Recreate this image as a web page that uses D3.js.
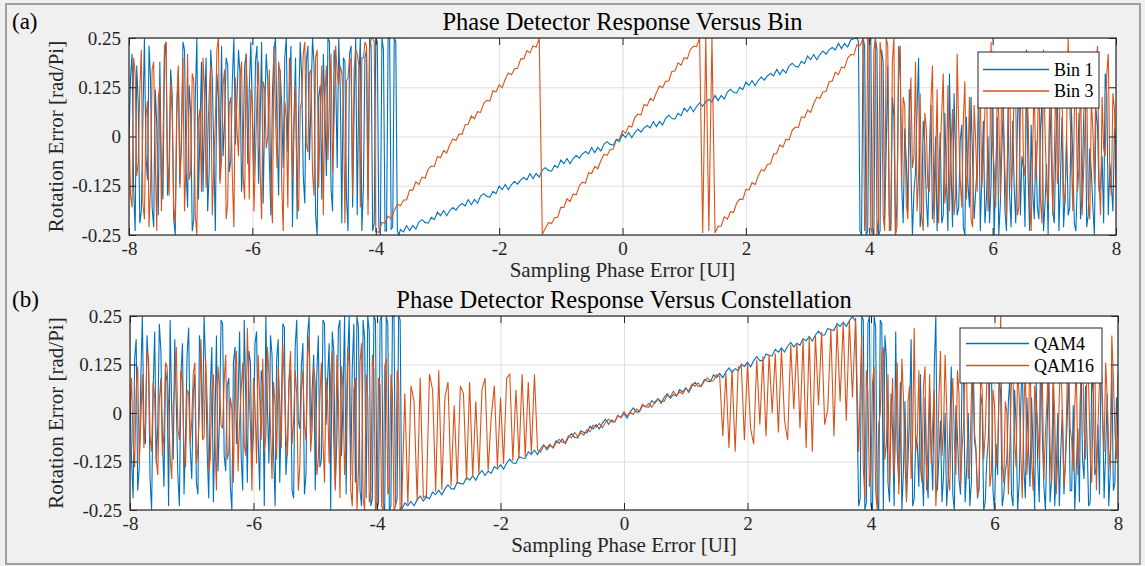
<!DOCTYPE html>
<html lang="en">
<head>
<meta charset="UTF-8">
<title>Phase Detector Response</title>
<script src="https://d3js.org/d3.v7.min.js"></script>
<style>
    body {
        margin: 0;
        padding: 0;
        background: #f0f0f0;
    }
    svg {
        display: block;
    }
    .tick line {
        stroke: #262626;
    }
    .grid .tick line {
        stroke: #dedede;
    }
</style>
</head>
<body>
<div id="chart"></div>
<script>
// noisy stretches are sampled every 0.025 UI, the ramps every 0.05 UI
const FINE = 0.025;
const COARSE = 0.05;

const xTicks = [-8, -6, -4, -2, 0, 2, 4, 6, 8];
const yTicks = [-0.25, -0.125, 0, 0.125, 0.25];
const yTickLabels = ["-0.25", "-0.125", "0", "0.125", "0.25"];

// ---- panel (a): Bin 1 ----
// x = -8 ... -3.625
const bin1Left = [
    -0.02, 0.15, 0.21, -0.13, -0.24, 0.18, 0.08, -0.22, -0.19, 0.04, 0.25, -0.05, -0.11, 0.23, 0.14, -0.18, -0.23, 0.12, 0.03, -0.2,
    0.19, -0.09, -0.16, 0.2, 0.24, -0.15, -0.07, 0.17, 0.11, -0.21, -0.25, 0.06, 0.17, -0.12, -0.02, 0.24, 0.22, -0.08, -0.18, 0.13,
    0.06, -0.24, -0.21, 0.1, 0.25, -0.16, 0.01, 0.19, -0.14, 0.07, 0.2, -0.19, -0.09, 0.22, 0.15, -0.04, -0.24, 0.16, 0.1, -0.11,
    0.23, -0.05, 0.04, 0.2, 0.18, -0.09, -0.06, 0.14, 0.25, -0.02, 0.09, 0.22, 0.16, -0.14, -0.03, 0.18, 0.21, -0.07, 0.12, 0.24,
    0.05, -0.1, 0.19, 0.23, -0.12, 0.03, 0.24, -0.17, 0.07, 0.21, 0.14, -0.06, -0.2, 0.11, 0.22, 0.25, 0.02, -0.15, 0.17, 0.08,
    -0.08, 0.2, 0.25, -0.04, 0.11, 0.23, -0.23, 0.05, 0.2, -0.21, 0.06, 0.24, 0.15, -0.1, -0.17, 0.19, 0.23, -0.06, 0.09, 0.25,
    0.18, -0.2, -0.25, 0.1, 0.13, -0.16, 0.21, 0.07, -0.1, 0.25, 0.24, -0.13, -0.19, 0.22, 0.16, -0.08, 0.25, 0.12, -0.22, 0.2,
    0.19, -0.15, -0.24, 0.21, 0.23, -0.18, 0.08, 0.25, -0.2, 0.14, 0.25, -0.24, -0.13, 0.2, 0.22, -0.16,
    0.25, 0.23, -0.24, -0.22, 0.25, 0.24, -0.23, -0.25, 0.25, 0.22, -0.24, -0.24, 0.25, 0.25, -0.235, -0.23, 0.25, 0.24, -0.24, -0.25
];
// x = -3.6 ... 3.75
const bin1Ramp = [
    -0.236, -0.242, -0.226, -0.239, -0.226, -0.235, -0.217, -0.211, -0.218, -0.220,
    -0.205, -0.211, -0.192, -0.201, -0.188, -0.201, -0.188, -0.180, -0.187, -0.176,
    -0.170, -0.176, -0.160, -0.173, -0.160, -0.169, -0.151, -0.145, -0.152, -0.154,
    -0.139, -0.145, -0.126, -0.135, -0.122, -0.135, -0.122, -0.114, -0.121, -0.110,
    -0.104, -0.110, -0.094, -0.107, -0.094, -0.103, -0.085, -0.079, -0.086, -0.088,
    -0.073, -0.079, -0.060, -0.069, -0.056, -0.069, -0.056, -0.048, -0.055, -0.044,
    -0.038, -0.044, -0.028, -0.041, -0.028, -0.037, -0.019, -0.013, -0.020, -0.022,
    -0.007, -0.013, 0.006, -0.003, 0.010, -0.003, 0.010, 0.019, 0.011, 0.022,
    0.028, 0.022, 0.038, 0.025, 0.038, 0.029, 0.047, 0.054, 0.046, 0.044,
    0.059, 0.053, 0.072, 0.063, 0.076, 0.063, 0.076, 0.085, 0.077, 0.088,
    0.094, 0.088, 0.104, 0.091, 0.104, 0.095, 0.113, 0.120, 0.112, 0.110,
    0.125, 0.119, 0.138, 0.129, 0.142, 0.129, 0.142, 0.151, 0.143, 0.154,
    0.160, 0.154, 0.170, 0.157, 0.170, 0.161, 0.179, 0.186, 0.178, 0.176,
    0.191, 0.185, 0.204, 0.195, 0.208, 0.195, 0.208, 0.217, 0.209, 0.220,
    0.226, 0.220, 0.236, 0.223, 0.236, 0.227, 0.245, 0.248
];
// x = 3.8 ... 8
const bin1Right = [
    0.25, 0.24, -0.24, -0.25, 0.25, 0.23, -0.25, -0.24, 0.24, 0.25, -0.23, -0.25, 0.25, 0.22, -0.25, -0.24, 0.22, 0.19,
    -0.21, -0.03, 0.18, -0.2, -0.24, 0.1, 0.05, -0.25, -0.17, 0.14, 0.23, -0.12, -0.22, 0.02, -0.06, -0.19, 0.12, -0.08, -0.25, -0.14,
    -0.09, 0.07, 0.2, -0.23, -0.19, 0.04, -0.02, -0.16, -0.23, -0.04, 0.08, -0.21, -0.15, 0.0, -0.24, -0.11, 0.01, -0.22, -0.2, 0.06,
    -0.11, -0.24, 0.16, -0.07, -0.23, 0.11, -0.05, -0.2, -0.18, -0.01, 0.03, -0.23, -0.25, 0.05, -0.12, -0.18, 0.1, -0.06, -0.21, -0.14,
    -0.07, 0.12, -0.24, -0.1, 0.04, -0.22, -0.16, 0.0, -0.22, -0.12, 0.14, -0.25, -0.1, 0.05, -0.25, -0.17, -0.03, 0.08, -0.19, -0.24,
    0.07, -0.15, -0.23, 0.04, -0.13, -0.22, 0.02, 0.15, -0.2, -0.05, -0.08, -0.23, 0.22, -0.1, -0.24, 0.03, -0.14, -0.21, -0.01, -0.18,
    -0.21, 0.02, 0.09, -0.24, -0.17, -0.07, -0.25, 0.1, -0.04, -0.19, -0.22, -0.02, 0.12, -0.24, -0.11, 0.05, -0.23, -0.15, 0.0, -0.2,
    -0.18, 0.08, -0.06, -0.22, -0.24, -0.1, 0.06, -0.21, -0.15, 0.04, 0.17, -0.23, -0.2, -0.03, -0.09, -0.18, -0.25, 0.07, 0.03, -0.14,
    -0.13, -0.05, -0.22, 0.16, 0.11, -0.2, -0.07, -0.12, -0.19, 0.02, -0.03
];

// ---- panel (a): Bin 3 ----
// x = -8 ... -4.025
const bin3Left = [
    0.03, -0.15, -0.18, 0.2, 0.16, -0.1, -0.07, 0.12, 0.22, -0.17, -0.21, 0.05, 0.09, -0.23, -0.12, 0.17, 0.19, -0.04, -0.24, 0.1,
    0.13, -0.19, -0.03, 0.23, 0.24, -0.08, -0.15, 0.14, 0.06, -0.18, -0.22, 0.09, 0.18, -0.13, 0.01, 0.2, -0.19, -0.06, 0.21, -0.11,
    -0.09, 0.16, 0.14, -0.2, -0.25, 0.04, 0.07, -0.14, 0.2, 0.11, -0.13, -0.02, 0.11, 0.18, -0.2, -0.07, 0.04, 0.22, 0.25, -0.12,
    -0.06, 0.13, 0.17, -0.21, -0.17, 0.08, 0.1, -0.1, -0.23, 0.15, 0.02, -0.05, 0.15, 0.19, -0.1, -0.16, 0.21, 0.06, -0.16, 0.12,
    0.08, -0.19, -0.05, 0.1, 0.19, -0.08, -0.21, 0.14, 0.12, -0.03, 0.0, 0.17, -0.14, -0.22, 0.23, 0.05, -0.08, 0.19, 0.16, -0.12,
    -0.24, 0.09, 0.05, -0.18, 0.2, 0.13, -0.11, 0.03, 0.13, -0.15, -0.19, 0.07, 0.09, 0.21, 0.24, -0.02, -0.04, 0.16, 0.17, -0.09,
    -0.15, 0.2, 0.22, -0.13, 0.06, 0.18, -0.2, 0.1, 0.18, -0.06, 0.11, 0.21, -0.09, 0.04, 0.23, 0.16,
    0.13, 0.18, 0.16, 0.1, -0.22, 0.14, 0.15, 0.2, 0.19, -0.15, 0.17, 0.22, 0.21, 0.18, -0.18, 0.2, 0.2, 0.24, 0.23, -0.2, 0.22, 0.25, 0.25, 0.24
];
// x = -4 ... -1.35
const bin3Ramp1 = [
    -0.241, -0.243, -0.218, -0.220, -0.202, -0.209, -0.188, -0.172, -0.176, -0.161,
    -0.161, -0.136, -0.136, -0.115, -0.122, -0.103, -0.106, -0.083, -0.075, -0.076,
    -0.051, -0.054, -0.036, -0.042, -0.021, -0.006, -0.010, 0.006, 0.006, 0.030,
    0.031, 0.052, 0.045, 0.063, 0.061, 0.084, 0.092, 0.090, 0.116, 0.113,
    0.131, 0.124, 0.146, 0.161, 0.157, 0.172, 0.173, 0.197, 0.197, 0.218,
    0.212, 0.230, 0.227, 0.249
];
// x = -1.3 ... 1.2
const bin3Ramp2 = [
    -0.248, -0.233, -0.218, -0.221, -0.206, -0.205, -0.180, -0.180, -0.158, -0.165,
    -0.146, -0.148, -0.125, -0.116, -0.118, -0.092, -0.094, -0.076, -0.082, -0.061,
    -0.045, -0.048, -0.033, -0.032, -0.008, -0.007, 0.015, 0.008, 0.027, 0.024,
    0.048, 0.057, 0.055, 0.081, 0.078, 0.097, 0.091, 0.112, 0.128, 0.124,
    0.140, 0.141, 0.165, 0.166, 0.187, 0.181, 0.200, 0.197, 0.221, 0.229,
    0.228
];
// x = 1.25 ... 1.45
const bin3SwingM = [0.25, -0.245, 0.25, -0.24, 0.25];
// x = 1.5 ... 3.9
const bin3Ramp3 = [
    -0.245, -0.228, -0.227, -0.204, -0.210, -0.191, -0.193, -0.169, -0.159, -0.160,
    -0.134, -0.136, -0.117, -0.122, -0.100, -0.084, -0.087, -0.071, -0.069, -0.044,
    -0.043, -0.021, -0.027, -0.007, -0.009, 0.015, 0.024, 0.023, 0.050, 0.048,
    0.067, 0.061, 0.083, 0.100, 0.097, 0.113, 0.114, 0.139, 0.141, 0.163,
    0.157, 0.176, 0.174, 0.199, 0.208, 0.207, 0.233, 0.231, 0.248
];
// x = 3.925 ... 8
const bin3Right = [
    -0.24, -0.2, 0.25, 0.24, -0.23, -0.25, 0.22, 0.25, -0.25, -0.21, 0.24, 0.2, -0.2, -0.24, 0.25, 0.23, -0.24, -0.22, 0.19, 0.25, -0.25, -0.23, 0.23, 0.21,
    -0.12, 0.1, 0.08, -0.17, -0.21, 0.04, 0.15, -0.08, -0.05, 0.19, -0.19, -0.1, 0.11, -0.2, -0.24, 0.06, 0.02, -0.13, -0.14, 0.09,
    0.18, -0.22, -0.09, 0.12, -0.22, -0.04, 0.06, 0.16, -0.17, -0.11, 0.13, -0.19, -0.03, 0.07, -0.2, -0.15, 0.21, 0.02, -0.11, -0.18,
    0.04, 0.14, -0.16, -0.07, 0.1, -0.21, -0.23, 0.08, -0.01, -0.14, 0.16, 0.11, -0.13, -0.06, 0.07, 0.19, -0.19, -0.12, 0.24, -0.02,
    -0.08, -0.18, 0.12, 0.05, -0.15, 0.17, 0.03, -0.09, -0.21, 0.03, 0.17, -0.13, -0.06, 0.14, 0.09, -0.2, -0.18, 0.06, 0.2, -0.07,
    -0.1, 0.13, 0.05, -0.16, -0.24, -0.02, 0.14, -0.11, -0.02, 0.18, -0.16, -0.22, 0.22, 0.01, -0.12, -0.17, 0.08, 0.12, -0.2, -0.05,
    0.15, -0.12, -0.07, 0.2, 0.11, -0.14, -0.17, 0.02, 0.25, 0.08, -0.04, -0.19, 0.06, 0.15, -0.14, -0.08, 0.19, -0.2, -0.09, 0.04,
    0.13, -0.16, -0.21, 0.09, 0.02, -0.12, 0.17, 0.23, -0.11, -0.2, 0.1, -0.03, -0.05, 0.16, 0.21, -0.1, -0.15, 0.11, 0.07, -0.13
];

// ---- panel (b): QAM4 ----
// x = -8 ... -3.625
const qam4Left = [
    0.05, -0.12, -0.22, 0.14, 0.19, -0.2, -0.14, 0.09, 0.25, -0.03, -0.08, 0.2, 0.12, -0.17, -0.25, 0.06, 0.21, -0.13, -0.03, 0.23,
    0.16, -0.07, -0.19, 0.11, 0.08, -0.24, 0.24, 0.01, -0.12, 0.19, 0.02, -0.16, -0.24, 0.1, 0.18, -0.21, -0.06, 0.15, 0.22, -0.09,
    -0.17, 0.05, 0.1, -0.18, -0.21, 0.2, 0.14, -0.05, 0.25, 0.12, -0.1, -0.22, 0.06, 0.17, -0.23, -0.04, 0.2, -0.15, -0.01, 0.24,
    0.23, -0.11, -0.15, 0.07, 0.09, -0.19, -0.25, 0.13, 0.17, -0.08, 0.03, 0.21, -0.11, -0.2, 0.24, 0.04, -0.18, 0.16, 0.13, -0.14,
    -0.05, 0.18, 0.21, -0.06, -0.2, 0.11, 0.07, -0.24, 0.25, 0.02, -0.13, 0.2, 0.15, -0.1, -0.24, 0.14, 0.19, -0.18, 0.0, 0.23,
    0.22, -0.16, -0.09, 0.08, 0.11, -0.2, -0.22, 0.17, 0.24, -0.02, -0.04, 0.12, 0.18, -0.21, -0.16, 0.2, 0.25, -0.07, 0.06, 0.15,
    -0.2, 0.1, 0.2, -0.14, -0.12, 0.24, 0.23, -0.03, 0.09, 0.18, -0.25, 0.21, 0.16, -0.19, -0.07, 0.22, 0.24, -0.11, 0.04, 0.25,
    -0.21, 0.14, 0.25, -0.16, 0.12, 0.23, -0.18, 0.25, 0.22, -0.2, -0.24, 0.24, 0.19, -0.22, 0.25, 0.21,
    -0.24, -0.22, 0.25, 0.24, -0.25, -0.23, 0.24, 0.25, -0.23, -0.25, 0.25, 0.23, -0.25, -0.24, 0.25, 0.25, -0.24, -0.22, 0.25, 0.24
];
// x = -3.6 ... 3.75
const qam4Ramp = [
    -0.249, -0.232, -0.239, -0.228, -0.239, -0.224, -0.214, -0.227, -0.216, -0.221,
    -0.204, -0.210, -0.199, -0.211, -0.195, -0.185, -0.195, -0.196, -0.178, -0.182,
    -0.183, -0.166, -0.173, -0.162, -0.173, -0.158, -0.148, -0.161, -0.150, -0.155,
    -0.138, -0.144, -0.133, -0.145, -0.129, -0.119, -0.129, -0.130, -0.112, -0.116,
    -0.117, -0.100, -0.107, -0.096, -0.107, -0.092, -0.082, -0.095, -0.084, -0.089,
    -0.072, -0.078, -0.067, -0.079, -0.063, -0.053, -0.063, -0.064, -0.046, -0.050,
    -0.051, -0.034, -0.041, -0.030, -0.041, -0.026, -0.016, -0.029, -0.018, -0.023,
    -0.006, -0.012, -0.001, -0.013, 0.003, 0.013, 0.003, 0.003, 0.020, 0.016,
    0.015, 0.032, 0.025, 0.036, 0.025, 0.040, 0.050, 0.038, 0.048, 0.043,
    0.060, 0.054, 0.065, 0.053, 0.069, 0.079, 0.069, 0.069, 0.086, 0.082,
    0.081, 0.098, 0.091, 0.102, 0.091, 0.106, 0.116, 0.104, 0.114, 0.109,
    0.126, 0.120, 0.131, 0.119, 0.135, 0.145, 0.135, 0.135, 0.152, 0.148,
    0.147, 0.164, 0.157, 0.168, 0.157, 0.172, 0.182, 0.170, 0.180, 0.175,
    0.192, 0.186, 0.197, 0.185, 0.201, 0.211, 0.201, 0.201, 0.218, 0.214,
    0.213, 0.230, 0.223, 0.234, 0.223, 0.238, 0.248, 0.236
];
// x = 3.8 ... 8
const qam4Right = [
    -0.24, -0.22, 0.25, 0.24, -0.25, -0.23, 0.23, 0.25, -0.24, -0.25, 0.25, 0.22, -0.22, -0.25, 0.24, 0.23, -0.25, 0.2,
    0.14, -0.18, -0.23, 0.05, -0.05, -0.24, 0.21, -0.1, -0.18, 0.08, -0.25, -0.15, 0.03, -0.22, -0.12, 0.0, 0.19, -0.24, -0.22, -0.06,
    -0.08, -0.19, 0.1, -0.13, -0.24, 0.04, -0.15, -0.22, 0.06, -0.09, -0.2, 0.12, 0.25, -0.2, -0.11, -0.02, -0.23, -0.16, 0.0, -0.24,
    -0.17, -0.05, 0.12, -0.21, -0.25, 0.02, -0.06, -0.17, -0.21, 0.11, 0.08, -0.23, -0.14, 0.0, -0.24, -0.18, 0.17, -0.07, -0.1, -0.22,
    -0.19, 0.05, 0.02, -0.25, -0.23, -0.12, -0.07, 0.09, 0.13, -0.2, -0.25, -0.08, -0.16, 0.1, 0.05, -0.24, -0.21, -0.15, -0.12, 0.03,
    0.09, -0.21, -0.24, 0.06, -0.03, -0.25, -0.18, 0.02, 0.15, -0.14, -0.22, 0.04, -0.09, -0.19, 0.04, -0.1, -0.25, 0.08, -0.13, -0.23,
    0.2, -0.06, -0.19, -0.25, -0.06, 0.12, -0.23, -0.17, 0.07, -0.24, -0.15, 0.0, -0.24, -0.09, 0.01, -0.21, -0.11, -0.03, 0.11, -0.2,
    -0.2, 0.02, -0.25, -0.14, -0.04, -0.23, 0.16, -0.12, -0.17, 0.07, -0.08, -0.24, -0.23, 0.1, 0.05, -0.16, -0.14, -0.03, -0.21, 0.13,
    0.03, -0.22, -0.1, 0.05, -0.24, -0.15, 0.12, -0.2, -0.18, 0.04, -0.06
];

// ---- panel (b): QAM16 ----
// x = -8 ... -3.625
const qam16Left = [
    0.0, 0.09, -0.08, -0.14, 0.06, 0.12, -0.13, -0.02, 0.1, -0.09, -0.03, 0.16, 0.14, -0.06, -0.1, 0.08, 0.04, -0.12, -0.16, 0.03,
    0.09, -0.11, -0.05, 0.13, 0.12, 0.02, -0.11, -0.17, 0.02, 0.07, 0.17, -0.04, -0.07, 0.11, 0.08, -0.1, -0.14, 0.06, 0.05, -0.08,
    -0.02, 0.1, 0.13, -0.13, -0.09, 0.01, 0.19, -0.07, -0.06, 0.14, 0.03, -0.15, -0.12, 0.05, 0.1, -0.06, -0.2, 0.12, 0.07, -0.03,
    -0.04, 0.08, 0.15, -0.12, -0.1, 0.04, 0.01, -0.18, 0.11, 0.16, -0.15, -0.02, 0.06, 0.13, -0.08, -0.11, 0.22, 0.07, -0.03, -0.2,
    0.09, 0.02, -0.13, 0.15, 0.04, -0.07, 0.14, -0.1, -0.06, 0.17, 0.1, -0.04, -0.17, 0.08, 0.02, -0.12, 0.12, 0.03, -0.09, 0.18,
    0.07, -0.06, -0.11, 0.09, 0.16, -0.08, -0.02, 0.11, 0.05, -0.2, -0.14, 0.06, 0.11, -0.03, -0.07, 0.14, 0.2, -0.1, -0.04, 0.12,
    0.08, -0.16, -0.12, 0.04, 0.13, -0.07, -0.18, 0.09, 0.03, -0.13, 0.1, 0.16, -0.08, -0.2, 0.15, 0.03, -0.22, 0.12, 0.06, -0.16,
    -0.05, 0.17, 0.12, -0.2, -0.24, 0.06, 0.09, -0.25, -0.15, 0.13, 0.18, -0.22, -0.25, 0.1, 0.04, -0.23, -0.2, 0.15, 0.11, -0.25,
    -0.23, 0.09, 0.07, -0.24, -0.25, 0.12, 0.14, -0.21, -0.19, 0.1, 0.05, -0.25, -0.24, 0.11, 0.08, -0.25
];
// x = -3.6 ... -1.45 : toggles between the ramp and an upper level
const qam16MidL = [
    -0.24, 0.05, -0.235, 0.07, 0.03, -0.226, 0.09, -0.218, -0.213, 0.1,
    0.06, -0.203, 0.11, -0.198, 0.04, 0.08, -0.188, 0.02, -0.183, 0.07,
    0.05, -0.172, 0.08, -0.165, 0.03, -0.158, 0.06, 0.09, -0.149, -0.01,
    0.07, -0.139, 0.04, -0.131, 0.09, 0.1, -0.123, 0.06, -0.118, 0.1,
    -0.112, 0.08, -0.104, 0.1
];
// x = -1.4 ... 1.55
const qam16Ramp = [
    -0.095, -0.101, -0.084, -0.090, -0.080, -0.091, -0.077, -0.068, -0.076, -0.076,
    -0.059, -0.064, -0.050, -0.061, -0.051, -0.057, -0.043, -0.048, -0.031, -0.037,
    -0.027, -0.038, -0.024, -0.016, -0.023, -0.023, -0.007, -0.011, 0.003, -0.008,
    0.002, -0.004, 0.010, 0.005, 0.022, 0.016, 0.025, 0.015, 0.029, 0.037,
    0.030, 0.030, 0.046, 0.042, 0.056, 0.045, 0.054, 0.049, 0.063, 0.057,
    0.075, 0.069, 0.078, 0.068, 0.082, 0.090, 0.082, 0.083, 0.099, 0.094
];
// x = 1.6 ... 3.75 : toggles between the ramp and a lower level
const qam16MidR = [
    -0.06, 0.104, -0.09, 0.112, -0.1, 0.118, 0.121, -0.07, 0.13, -0.04,
    -0.08, 0.138, -0.03, 0.146, -0.06, 0.151, 0.0, 0.153, -0.05, 0.165,
    -0.02, -0.07, 0.176, 0.01, 0.18, -0.04, 0.19, -0.09, 0.195, -0.1,
    0.2, 0.02, 0.209, -0.03, 0.01, 0.218, -0.06, 0.225, 0.03, 0.232,
    -0.02, 0.238, 0.04, 0.245
];
// x = 3.8 ... 8
const qam16Right = [
    -0.1, 0.06, 0.2, -0.14, -0.22, 0.11, 0.05, -0.19, -0.15, 0.08, 0.12, -0.2, -0.25, -0.03, 0.0, 0.15, 0.17, -0.12, -0.08, 0.1,
    -0.19, -0.02, 0.09, -0.16, -0.04, 0.13, -0.21, -0.09, 0.14, 0.04, -0.12, -0.23, 0.03, 0.07, -0.17, -0.06, 0.22, -0.1, -0.06, 0.11,
    -0.14, -0.18, 0.07, 0.12, -0.2, -0.07, 0.1, -0.13, -0.02, 0.06, -0.24, -0.15, 0.04, 0.16, -0.11, -0.04, 0.15, 0.02, -0.16, -0.2,
    0.01, 0.09, -0.07, -0.16, 0.11, 0.05, -0.19, -0.09, -0.03, 0.14, 0.08, -0.17, -0.13, 0.04, 0.18, -0.05, -0.09, -0.21, -0.2, 0.1,
    0.06, -0.12, -0.05, 0.08, 0.13, -0.19, -0.15, 0.06, 0.02, -0.14, -0.1, 0.05, 0.25, -0.13, -0.18, 0.03, 0.0, -0.21, -0.08, 0.09,
    0.09, -0.07, -0.14, 0.12, 0.04, -0.1, -0.22, 0.01, 0.12, -0.16, -0.06, 0.19, -0.12, -0.2, 0.07, 0.02, -0.03, -0.12, 0.16, 0.08,
    -0.17, -0.05, 0.03, 0.14, -0.09, -0.18, 0.1, 0.0, -0.21, -0.11, 0.05, 0.15, -0.01, -0.19, -0.13, 0.07, 0.14, -0.04, -0.07, -0.15,
    0.02, 0.12, -0.16, -0.06, 0.11, 0.2, -0.04, -0.12, 0.19, 0.07, -0.11, -0.18, 0.06, 0.13, -0.2, -0.03, 0.08, 0.16, -0.02, -0.1,
    0.13, 0.04, -0.09, -0.15, 0.2, 0.09, -0.05, -0.12, 0.1
];

// each series = list of stretches [first x, sample step, values]
const bin1 = [[-8, FINE, bin1Left], [-3.6, COARSE, bin1Ramp], [3.8, FINE, bin1Right]];
const bin3 = [[-8, FINE, bin3Left], [-4, COARSE, bin3Ramp1], [-1.3, COARSE, bin3Ramp2],
              [1.25, COARSE, bin3SwingM], [1.5, COARSE, bin3Ramp3], [3.925, FINE, bin3Right]];
const qam4 = [[-8, FINE, qam4Left], [-3.6, COARSE, qam4Ramp], [3.8, FINE, qam4Right]];
const qam16 = [[-8, FINE, qam16Left], [-3.6, COARSE, qam16MidL], [-1.4, COARSE, qam16Ramp],
               [1.6, COARSE, qam16MidR], [3.8, FINE, qam16Right]];

const toPoints = stretches => stretches.flatMap(([x0, step, vals]) => vals.map((v, i) => [x0 + i * step, v]));

const BLUE = "#0072BD", ORANGE = "#D95319";
const INK = "#262626";
const FONT = '"Liberation Serif", "Times New Roman", serif';

const panels = [
    {
        id: "a", tag: "(a)", title: "Phase Detector Response Versus Bin",
        left: 129, right: 1116, top: 38, bottom: 235,
        series: [{ name: "Bin 1", data: bin1, color: BLUE }, { name: "Bin 3", data: bin3, color: ORANGE }],
        legend: { x: 978, y: 52, w: 121, h: 56, line0: 983, line1: 1049, rows: [69.5, 91] }
    },
    {
        id: "b", tag: "(b)", title: "Phase Detector Response Versus Constellation",
        left: 130, right: 1118, top: 316, bottom: 510,
        series: [{ name: "QAM4", data: qam4, color: BLUE }, { name: "QAM16", data: qam16, color: ORANGE }],
        legend: { x: 960, y: 328, w: 142, h: 55, line0: 966, line1: 1029, rows: [343.5, 365.5] }
    }
];

const svg = d3.select("#chart").append("svg")
    .attr("width", 1145)
    .attr("height", 566);

svg.append("rect")
    .attr("x", 6).attr("y", 4)
    .attr("width", 1134).attr("height", 560)
    .attr("fill", "#f0f0f0")
    .attr("stroke", "#a0a0a0")
    .attr("stroke-width", 2);

panels.forEach(p => {
    const w = p.right - p.left, h = p.bottom - p.top;
    const x = d3.scaleLinear().domain([-8, 8]).range([p.left, p.right]);
    const y = d3.scaleLinear().domain([-0.25, 0.25]).range([p.bottom, p.top]);

    svg.append("rect")
        .attr("x", p.left).attr("y", p.top)
        .attr("width", w).attr("height", h)
        .attr("fill", "#fff");

    // grid
    svg.append("g").attr("class", "grid")
        .attr("transform", `translate(0,${p.bottom})`)
        .call(d3.axisBottom(x).tickValues(xTicks).tickSize(-h).tickFormat(""))
        .call(g => g.select(".domain").remove());
    svg.append("g").attr("class", "grid")
        .attr("transform", `translate(${p.left},0)`)
        .call(d3.axisLeft(y).tickValues(yTicks).tickSize(-w).tickFormat(""))
        .call(g => g.select(".domain").remove());

    // data
    svg.append("clipPath").attr("id", "clip-" + p.id)
        .append("rect")
        .attr("x", p.left).attr("y", p.top - 1)
        .attr("width", w).attr("height", h + 2);

    const line = d3.line()
        .x(d => x(d[0]))
        .y(d => y(d[1]));

    const plot = svg.append("g").attr("clip-path", `url(#clip-${p.id})`);
    p.series.forEach(s => {
        plot.append("path")
            .datum(toPoints(s.data))
            .attr("fill", "none")
            .attr("stroke", s.color)
            .attr("stroke-width", 1.1)
            .attr("d", line);
    });

    // axes with inward ticks on all four sides
    const styleTicks = g => {
        g.select(".domain").remove();
        g.selectAll(".tick text")
            .attr("font-family", FONT)
            .attr("font-size", 19)
            .attr("fill", INK);
    };
    svg.append("g")
        .attr("transform", `translate(0,${p.bottom})`)
        .call(d3.axisBottom(x).tickValues(xTicks).tickSize(-7).tickPadding(7).tickFormat(d => String(d)))
        .call(styleTicks);
    svg.append("g")
        .attr("transform", `translate(0,${p.top})`)
        .call(d3.axisTop(x).tickValues(xTicks).tickSize(-7).tickFormat(""))
        .call(styleTicks);
    svg.append("g")
        .attr("transform", `translate(${p.left},0)`)
        .call(d3.axisLeft(y).tickValues(yTicks).tickSize(-7).tickPadding(8)
            .tickFormat(d => yTickLabels[yTicks.indexOf(d)]))
        .call(styleTicks);
    svg.append("g")
        .attr("transform", `translate(${p.right},0)`)
        .call(d3.axisRight(y).tickValues(yTicks).tickSize(-7).tickFormat(""))
        .call(styleTicks);

    svg.append("rect")
        .attr("x", p.left).attr("y", p.top)
        .attr("width", w).attr("height", h)
        .attr("fill", "none")
        .attr("stroke", INK)
        .attr("stroke-width", 1.2);

    // labels
    svg.append("text")
        .attr("x", (p.left + p.right) / 2).attr("y", p.top - 8)
        .attr("text-anchor", "middle")
        .attr("font-family", FONT).attr("font-size", 24.5)
        .attr("fill", "#000")
        .text(p.title);
    svg.append("text")
        .attr("x", 12).attr("y", p.top - 9)
        .attr("font-family", FONT).attr("font-size", 23)
        .attr("fill", "#000")
        .text(p.tag);
    svg.append("text")
        .attr("x", (p.left + p.right) / 2).attr("y", p.bottom + 42)
        .attr("text-anchor", "middle")
        .attr("font-family", FONT).attr("font-size", 21)
        .attr("fill", INK)
        .text("Sampling Phase Error [UI]");
    svg.append("text")
        .attr("transform", `translate(63,${(p.top + p.bottom) / 2}) rotate(-90)`)
        .attr("text-anchor", "middle")
        .attr("font-family", FONT).attr("font-size", 21)
        .attr("fill", INK)
        .text("Rotation Error [rad/Pi]");

    // legend
    const L = p.legend;
    svg.append("rect")
        .attr("x", L.x).attr("y", L.y)
        .attr("width", L.w).attr("height", L.h)
        .attr("fill", "#fff")
        .attr("stroke", INK)
        .attr("stroke-width", 1);
    p.series.forEach((s, k) => {
        svg.append("line")
            .attr("x1", L.line0).attr("x2", L.line1)
            .attr("y1", L.rows[k]).attr("y2", L.rows[k])
            .attr("stroke", s.color)
            .attr("stroke-width", 1.6);
        svg.append("text")
            .attr("x", L.line1 + 5).attr("y", L.rows[k])
            .attr("dy", "0.35em")
            .attr("font-family", FONT).attr("font-size", 18)
            .attr("fill", "#000")
            .text(s.name);
    });
});
</script>
</body>
</html>
